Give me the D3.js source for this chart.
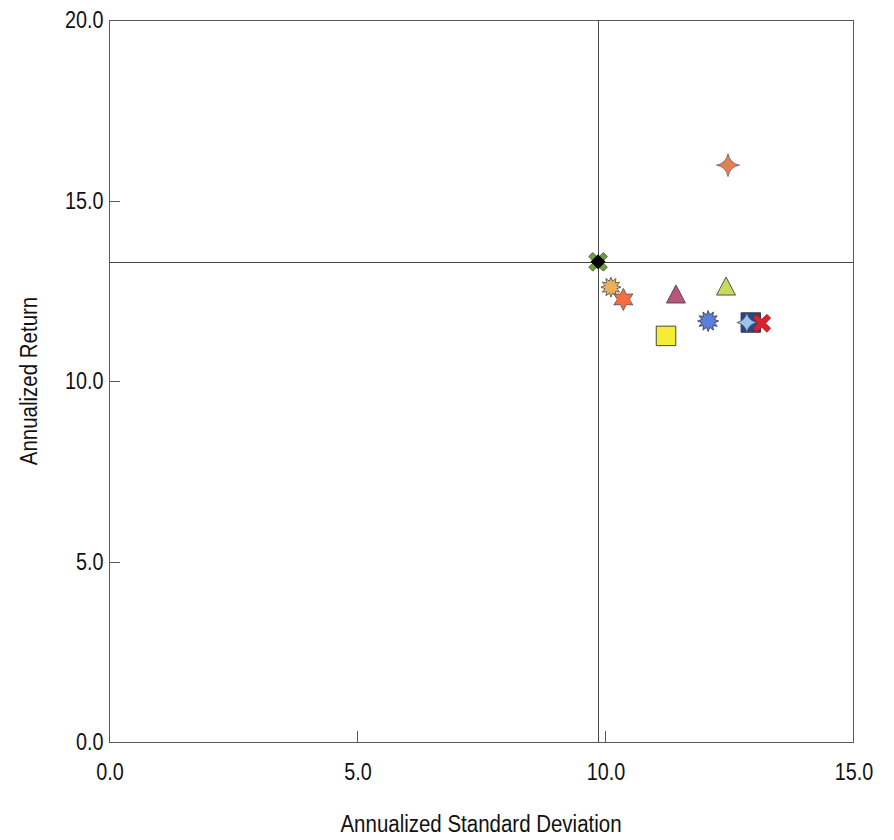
<!DOCTYPE html>
<html>
<head>
<meta charset="utf-8">
<script src="https://cdn.jsdelivr.net/npm/d3@7"></script>
<style>
  html, body { margin: 0; padding: 0; background: #fff; }
  svg text { font-family: "Liberation Sans", Arial, sans-serif; fill: #111; }
</style>
</head>
<body>
<svg id="chart" width="894" height="840"></svg>
<script>
// ---- data ----
const seriesNames = ["Benchmark", "Fund A", "Fund B", "Fund C", "Fund D", "Fund E", "Fund F", "Fund G", "Fund H", "Fund I", "Fund J"];
const stdDev      = [9.86, 10.12, 10.37, 11.43, 12.44, 12.08, 11.23, 12.94, 12.86, 13.16, 12.48];
const annReturn   = [13.30, 12.60, 12.26, 12.41, 12.63, 11.66, 11.25, 11.62, 11.62, 11.60, 15.98];
const xTicks = [0, 5, 10, 15];
const yTicks = [0, 5, 10, 15, 20];
const xTitle = "Annualized Standard Deviation";
const yTitle = "Annualized Return";
const benchmarkIndex = 0;

// ---- marker styles (per series, same order) ----
const markerStyle = [
  {shape: "diamondX",  fill: "#000000"},
  {shape: "burst12",   fill: "#E9B25A"},
  {shape: "star6",     fill: "#FF6B3D"},
  {shape: "triangle",  fill: "#BA5679"},
  {shape: "triangle",  fill: "#C8D95E"},
  {shape: "burst12b",  fill: "#5B80DA"},
  {shape: "square",    fill: "#F5EC35"},
  {shape: "square",    fill: "#26478E"},
  {shape: "star4b",    fill: "#9FC3E8"},
  {shape: "cross",     fill: "#D8232E"},
  {shape: "star4",     fill: "#E2804F"}
];

const svg = d3.select("#chart");
const margin = {left: 109, right: 41, top: 20, bottom: 98};
const W = 894, H = 840;
const x = d3.scaleLinear().domain([0, 15]).range([margin.left, W - margin.right]);
const y = d3.scaleLinear().domain([0, 20]).range([H - margin.bottom, margin.top]);

const frameColor = "#5a5a5a";

function condense(sel, f) {
  sel.each(function() {
    const w = this.getComputedTextLength();
    d3.select(this).attr("textLength", w * f).attr("lengthAdjust", "spacingAndGlyphs");
  });
}

// frame
svg.append("rect")
  .attr("x", x(0) + 0.5).attr("y", y(20) + 0.5)
  .attr("width", x(15) - x(0)).attr("height", y(0) - y(20))
  .attr("fill", "none").attr("stroke", frameColor).attr("stroke-width", 1);

// axes (inside ticks)
const xAxis = d3.axisBottom(x).tickValues(xTicks).tickFormat(d3.format(".1f")).tickSize(0).tickPadding(21);
const gx = svg.append("g").attr("transform", `translate(0.5,${y(0) + 0.5})`).call(xAxis);
gx.select(".domain").remove();
gx.selectAll("text").attr("font-size", 23).style("fill", "#111").call(condense, 0.86);

const yAxis = d3.axisLeft(y).tickValues(yTicks).tickFormat(d3.format(".1f")).tickSize(0).tickPadding(6);
const gy = svg.append("g").attr("transform", `translate(${x(0) + 0.5},0.5)`).call(yAxis);
gy.select(".domain").remove();
gy.selectAll("text").attr("font-size", 23).style("fill", "#111").call(condense, 0.86);

// inner tick marks
svg.append("g").selectAll("line").data(xTicks.filter(d => d > 0 && d < 15)).join("line")
  .attr("x1", d => Math.round(x(d)) + 0.5).attr("x2", d => Math.round(x(d)) + 0.5)
  .attr("y1", y(0)).attr("y2", y(0) - 11)
  .attr("stroke", frameColor);
svg.append("g").selectAll("line").data(yTicks.filter(d => d > 0 && d < 20)).join("line")
  .attr("y1", d => Math.round(y(d)) + 0.5).attr("y2", d => Math.round(y(d)) + 0.5)
  .attr("x1", x(0)).attr("x2", x(0) + 11)
  .attr("stroke", frameColor);

// axis titles
svg.append("text").attr("x", (x(0) + x(15)) / 2).attr("y", 832)
  .attr("text-anchor", "middle").attr("font-size", 23).text(xTitle).call(condense, 0.89);
svg.append("text").attr("transform", `translate(37,${(y(0) + y(20)) / 2}) rotate(-90)`)
  .attr("text-anchor", "middle").attr("font-size", 23).text(yTitle).call(condense, 0.89);

// benchmark reference lines
const bx = stdDev[benchmarkIndex], by = annReturn[benchmarkIndex];
svg.append("line").attr("x1", Math.round(x(bx)) + 0.5).attr("x2", Math.round(x(bx)) + 0.5)
  .attr("y1", y(20)).attr("y2", y(0)).attr("stroke", "#444");
svg.append("line").attr("y1", Math.round(y(by)) + 0.5).attr("y2", Math.round(y(by)) + 0.5)
  .attr("x1", x(0)).attr("x2", x(15)).attr("stroke", "#444");

// marker path generators
function starPath(n, R, r, rot) {
  const pts = [];
  for (let i = 0; i < 2 * n; i++) {
    const a = rot + i * Math.PI / n;
    const rad = i % 2 === 0 ? R : r;
    pts.push([rad * Math.sin(a), -rad * Math.cos(a)]);
  }
  return "M" + pts.map(p => p[0].toFixed(2) + "," + p[1].toFixed(2)).join("L") + "Z";
}
function curvedStar4(R, c) {
  // four-point star with concave curved sides; c = control point radius
  let d = "";
  for (let i = 0; i < 4; i++) {
    const a = i * Math.PI / 2, a2 = a + Math.PI / 4, a3 = a + Math.PI / 2;
    const p = [R * Math.sin(a), -R * Math.cos(a)];
    const q = [c * Math.sin(a2), -c * Math.cos(a2)];
    const e = [R * Math.sin(a3), -R * Math.cos(a3)];
    if (i === 0) d += `M${p[0].toFixed(2)},${p[1].toFixed(2)}`;
    d += `Q${q[0].toFixed(2)},${q[1].toFixed(2)} ${e[0].toFixed(2)},${e[1].toFixed(2)}`;
  }
  return d + "Z";
}
function rectPath(w, h) {
  return `M${-w/2},${-h/2}H${w/2}V${h/2}H${-w/2}Z`;
}
function triPath(w, h) {
  return `M0,${-h/2}L${w/2},${h/2}L${-w/2},${h/2}Z`;
}
function crossPath(len, thick) {
  const a = len / 2, t = thick / 2;
  const p = [[-t, -a], [t, -a], [t, -t], [a, -t], [a, t], [t, t], [t, a], [-t, a], [-t, t], [-a, t], [-a, -t], [-t, -t]];
  return "M" + p.join("L") + "Z";
}

const g = svg.append("g");
stdDev.forEach((sd, i) => {
  const st = markerStyle[i];
  const cx = x(sd), cy = y(annReturn[i]);
  const m = g.append("g").attr("transform", `translate(${cx},${cy})`);
  const stroke = "#4a4a4a";
  switch (st.shape) {
    case "diamondX":
      [[-1,-1],[1,-1],[1,1],[-1,1]].forEach(([dx, dy]) => {
        m.append("path").attr("d", starPath(2, 4, 4, 0))
          .attr("transform", `translate(${dx * 5.3},${dy * 5.3})`)
          .attr("fill", "#6FA03A").attr("stroke", "#3d5a20").attr("stroke-width", 0.8);
      });
      m.append("path").attr("d", "M0,-7.5L7.5,0L0,7.5L-7.5,0Z").attr("fill", st.fill);
      break;
    case "burst12":
      m.append("path").attr("d", starPath(12, 10, 6.2, 0)).attr("fill", st.fill).attr("stroke", stroke).attr("stroke-width", 0.8);
      break;
    case "burst12b":
      m.append("path").attr("d", starPath(12, 10.5, 6.5, 0)).attr("fill", st.fill).attr("stroke", "#334").attr("stroke-width", 0.8);
      break;
    case "star6":
      m.append("path").attr("d", starPath(6, 11, 6, 0)).attr("fill", st.fill).attr("stroke", stroke).attr("stroke-width", 0.8);
      break;
    case "triangle":
      m.append("path").attr("d", triPath(19, 18)).attr("fill", st.fill).attr("stroke", "#444").attr("stroke-width", 0.9);
      break;
    case "square":
      m.append("path").attr("d", rectPath(19.5, 19.5)).attr("fill", st.fill).attr("stroke", "#333").attr("stroke-width", 0.9);
      break;
    case "star4":
      m.append("path").attr("d", curvedStar4(11.5, 2.5)).attr("fill", st.fill).attr("stroke", "#666").attr("stroke-width", 0.8);
      break;
    case "star4b":
      m.append("path").attr("d", curvedStar4(10, 2.5)).attr("fill", st.fill).attr("stroke", "#3a5070").attr("stroke-width", 0.8);
      break;
    case "cross":
      m.append("path").attr("d", crossPath(20, 5.5)).attr("transform", "rotate(45)")
        .attr("fill", st.fill).attr("stroke", "#8a1a20").attr("stroke-width", 0.6);
      break;
  }
});
</script>
</body>
</html>
